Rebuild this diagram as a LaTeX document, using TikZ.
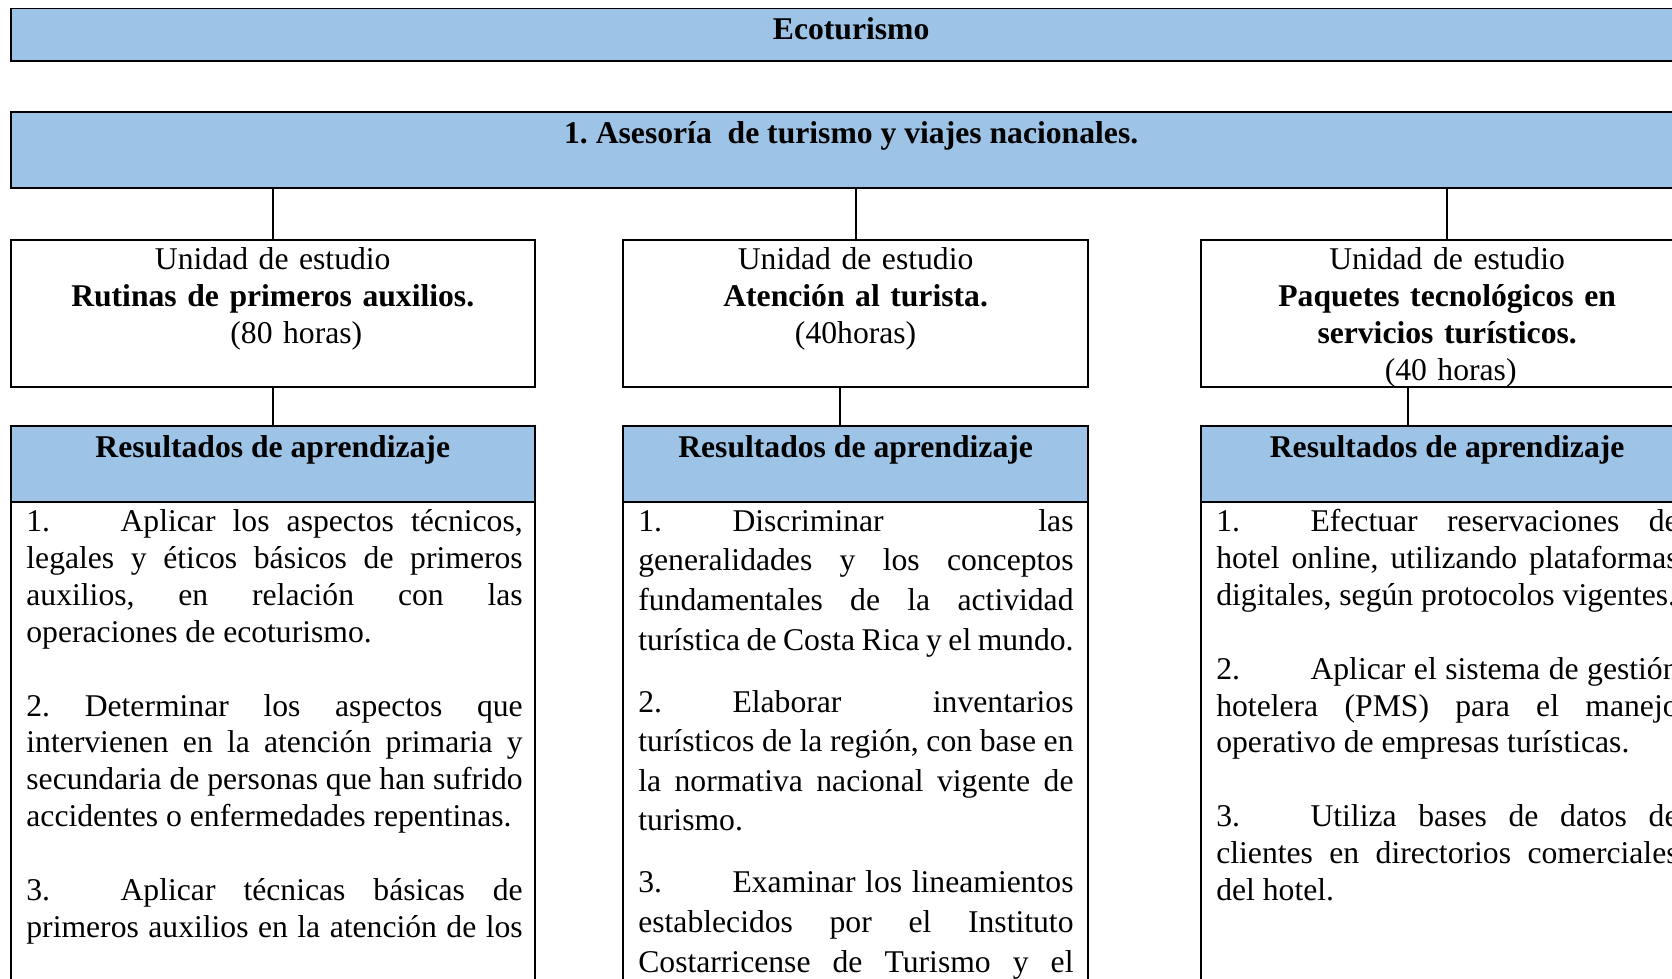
\documentclass[tikz,border=0pt]{standalone}
\usepackage{fontspec}
\setmainfont{Liberation Serif}
\usetikzlibrary{positioning, calc}
\definecolor{Celeste}{HTML}{9DC3E6}
\definecolor{Borde}{HTML}{000000}
\hyphenpenalty=10000
\exhyphenpenalty=10000
\frenchspacing
\tikzset{
    barra/.style={rectangle, draw=Borde, fill=Celeste, line width=0.5pt, anchor=north west, inner sep=0pt, outer sep=0pt},
    caja/.style={rectangle, draw=Borde, fill=white, line width=0.5pt, anchor=north west, inner sep=0pt, outer sep=0pt},
    link/.style={draw=Borde, line width=0.5pt},
}
\newcommand{\tabnum}[1]{\makebox[26.8pt][l]{#1}}
\begin{document}
\begin{tikzpicture}[
        x=0.01cm, y=-0.01cm,
        % Texto en negrita de las barras
        titulo/.style={anchor=base, inner sep=0pt, font=\fontsize{9}{10.5}\selectfont\bfseries},
        % Texto de cada unidad de estudio
        unidad/.style={anchor=base, inner sep=0pt, align=center, font=\fontsize{9}{10.5}\selectfont},
        % Listas de resultados
        lista/.style={anchor=base west, inner sep=0pt, align=justify, font=\fontsize{9}{10.5}\selectfont}
    ]

    % Marco de la imagen
    \useasboundingbox (0,0) rectangle (1672,978);
    \clip (0,0) rectangle (1672,978);

    % 1. Barras superiores
    \node[barra, minimum width=16.80cm, minimum height=0.525cm] (eco) at (10.7,8.5) {};
    \node[titulo] (eco_txt) at ([yshift=-0.305cm]eco.north) {Ecoturismo};

    \node[barra, minimum width=16.80cm, minimum height=0.76cm] (ase) at (10.7,112) {};
    \node[titulo] (ase_txt) at ([yshift=-0.315cm]ase.north) {1. Asesoría\ \ de turismo y viajes nacionales.};

    % 2. Unidades de estudio
    \node[caja, minimum width=5.238cm, minimum height=1.47cm] (uniA) at (10.7,240) {};
    \node[unidad, text width=4.96cm] (uniA_txt) at ([yshift=-0.297cm]uniA.north)
        {Unidad de estudio\\\textbf{Rutinas de primeros auxilios.}\\\hspace*{13.4pt}(80 horas)};

    \node[caja, minimum width=4.65cm, minimum height=1.47cm] (uniB) at (623,240) {};
    \node[unidad, text width=4.35cm] (uniB_txt) at ([yshift=-0.297cm]uniB.north)
        {Unidad de estudio\\\textbf{Atención al turista.}\\(40horas)};

    \node[caja, minimum width=4.92cm, minimum height=1.47cm] (uniC) at (1201,240) {};
    \node[unidad, text width=4.62cm] (uniC_txt) at ([yshift=-0.297cm]uniC.north)
        {Unidad de estudio\\\textbf{Paquetes tecnológicos en}\\\textbf{servicios turísticos.}\\\hspace*{2pt}(40 horas)};

    % 3. Resultados de aprendizaje
    \node[barra, minimum width=5.238cm, minimum height=0.757cm] (resA) at (10.7,426) {};
    \node[titulo] (resA_txt) at ([yshift=-0.31cm]resA.north) {Resultados de aprendizaje};
    \node[caja, minimum width=5.238cm, minimum height=5cm] (lisA) at (10.7,501.7) {};
    \node[lista, text width=4.96cm] (lisA_txt) at ([xshift=0.15cm, yshift=-0.297cm]lisA.north west)
        {\tabnum{1.}Aplicar los aspectos técnicos,\linebreak
        legales y éticos básicos de primeros\linebreak
        auxilios, en relación con las\linebreak
        operaciones de ecoturismo.\par\vspace{10.5pt}
        2. Determinar los aspectos que\linebreak
        intervienen en la atención primaria y\linebreak
        secundaria de personas que han sufrido\linebreak
        accidentes o enfermedades repentinas.\par\vspace{10.5pt}
        \tabnum{3.}Aplicar técnicas básicas de\linebreak
        primeros auxilios en la atención de los\parfillskip=0pt\par};

    \node[barra, minimum width=4.65cm, minimum height=0.757cm] (resB) at (623,426) {};
    \node[titulo] (resB_txt) at ([yshift=-0.31cm]resB.north) {Resultados de aprendizaje};
    \node[caja, minimum width=4.65cm, minimum height=5cm] (lisB) at (623,501.7) {};
    \node[lista, text width=4.35cm, font=\fontsize{9}{11.25}\selectfont] (lisB_txt) at ([xshift=0.146cm, yshift=-0.297cm]lisB.north west)
        {\tabnum{1.}Discriminar las\linebreak
        generalidades y los conceptos\linebreak
        fundamentales de la actividad\linebreak
        turística de Costa Rica y el mundo.\par\vspace{6.4pt}
        \tabnum{2.}Elaborar inventarios\linebreak
        turísticos de la región, con base en\linebreak
        la normativa nacional vigente de\linebreak
        turismo.\par\vspace{6.4pt}
        \tabnum{3.}Examinar los lineamientos\linebreak
        establecidos por el Instituto\linebreak
        Costarricense de Turismo y el\parfillskip=0pt\par};

    \node[barra, minimum width=4.92cm, minimum height=0.757cm] (resC) at (1201,426) {};
    \node[titulo] (resC_txt) at ([yshift=-0.31cm]resC.north) {Resultados de aprendizaje};
    \node[caja, minimum width=4.92cm, minimum height=5cm] (lisC) at (1201,501.7) {};
    \node[lista, text width=4.62cm] (lisC_txt) at ([xshift=0.146cm, yshift=-0.297cm]lisC.north west)
        {\tabnum{1.}Efectuar reservaciones de\linebreak
        hotel online, utilizando plataformas\linebreak
        digitales, según protocolos vigentes.\par\vspace{10.5pt}
        \tabnum{2.}Aplicar el sistema de gestión\linebreak
        hotelera (PMS) para el manejo\linebreak
        operativo de empresas turísticas.\par\vspace{10.5pt}
        \tabnum{3.}Utiliza bases de datos de\linebreak
        clientes en directorios comerciales\linebreak
        del hotel.};

    % 4. Conectores
    \draw[link] (ase.south -| uniA.north) -- (uniA.north);
    \draw[link] (ase.south -| uniB.north) -- (uniB.north);
    \draw[link] (ase.south -| uniC.north) -- (uniC.north);
    \draw[link] (uniA.south) -- (resA.north);
    \draw[link] ([xshift=-0.155cm]uniB.south) -- ([xshift=-0.155cm]resB.north);
    \draw[link] ([xshift=-0.39cm]uniC.south) -- ([xshift=-0.39cm]resC.north);

\end{tikzpicture}
\end{document}
